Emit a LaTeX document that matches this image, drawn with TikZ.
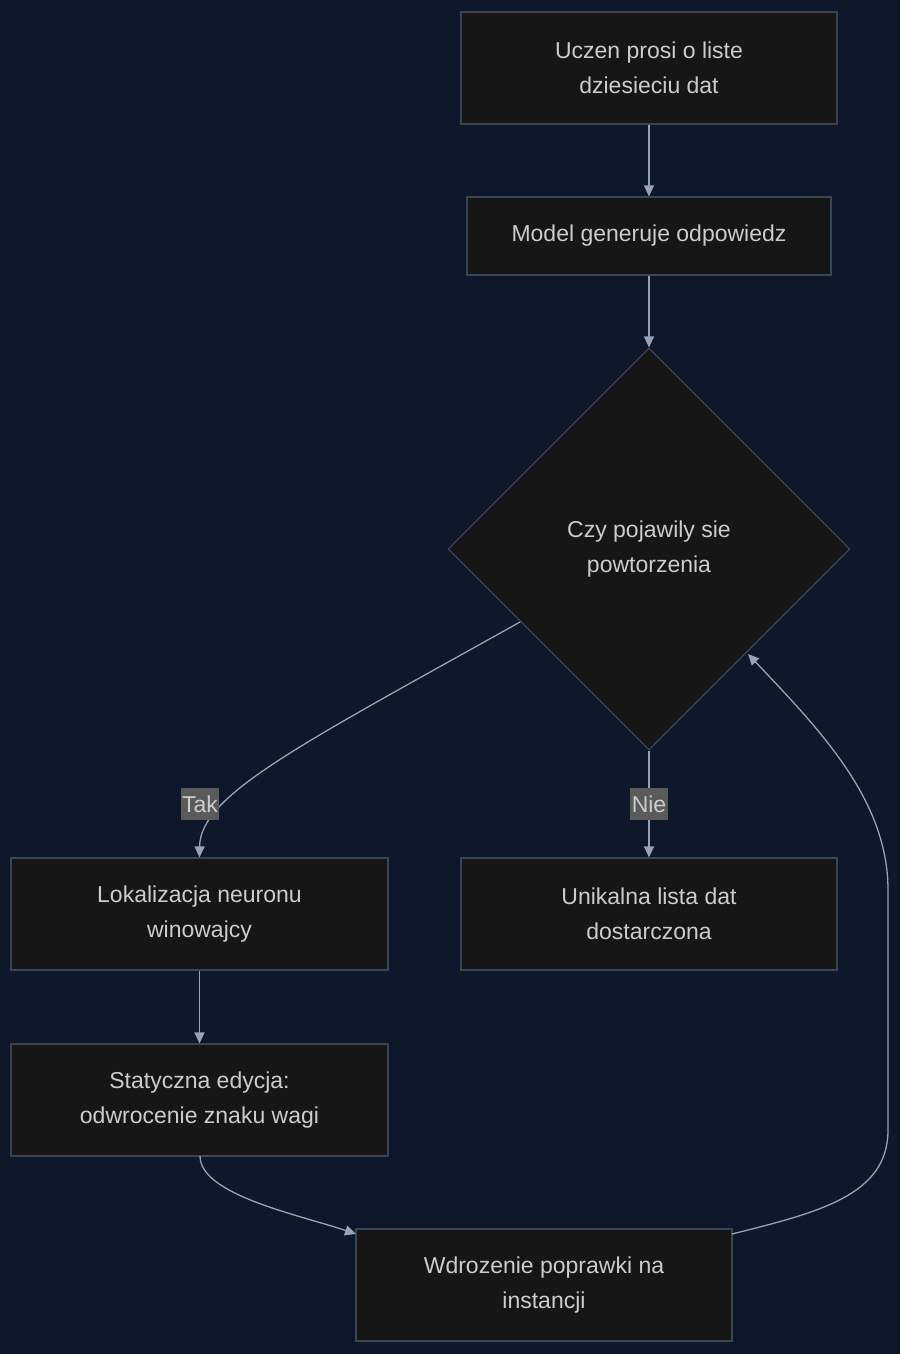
\documentclass[tikz,border=0pt]{standalone}
\usepackage{fontspec}
\setmainfont{Liberation Sans}
\usetikzlibrary{shapes.geometric,arrows.meta}
\definecolor{bgc}{RGB}{15,23,42}
\definecolor{nodefill}{RGB}{22,22,22}
\definecolor{nodeborder}{RGB}{58,69,86}
\definecolor{edgec}{RGB}{148,163,184}
\definecolor{txtc}{RGB}{204,204,204}
\definecolor{lblbg}{RGB}{90,90,90}
\tikzset{
  x=1pt,y=-1pt,
  box/.style={draw=nodeborder,fill=nodefill,line width=1.2pt,text=txtc,align=center,
    font=\fontsize{23}{35}\selectfont,inner sep=0pt},
  decision/.style={diamond,aspect=1,draw=nodeborder,fill=nodefill,line width=1.2pt,text=txtc,align=center,
    font=\fontsize{23}{35}\selectfont,minimum width=402pt,minimum height=402pt,inner sep=0pt},
  edge/.style={draw=edgec,line width=1.3pt,-{Triangle[length=11pt,width=10pt]}},
  lbl/.style={fill=lblbg,text=txtc,font=\fontsize{23}{26}\selectfont,inner sep=1.5pt,minimum height=32pt}
}
\begin{document}
\begin{tikzpicture}
\fill[bgc] (0,0) rectangle (900,1354);
\useasboundingbox (0,0) rectangle (900,1354);

\node[box,minimum width=376pt,minimum height=112pt] (A) at (649,68) {Uczen prosi o liste\\dziesieciu dat};
\node[box,minimum width=364pt,minimum height=78pt] (B) at (649,236) {Model generuje odpowiedz};
\node[decision] (C) at (649,549) {Czy pojawily sie\\powtorzenia};
\node[box,minimum width=377pt,minimum height=112pt] (D) at (199.5,914) {Lokalizacja neuronu\\winowajcy};
\node[box,minimum width=376pt,minimum height=112pt] (E) at (649,914) {Unikalna lista dat\\dostarczona};
\node[box,minimum width=377pt,minimum height=112pt] (F) at (199.5,1100) {Statyczna edycja:\\odwrocenie znaku wagi};
\node[box,minimum width=376pt,minimum height=112pt] (G) at (544,1285) {Wdrozenie poprawki na\\instancji};

\coordinate (Cl) at (520,622);
\coordinate (Cr) at (748,654);
\coordinate (Gr) at (732,1234);
\coordinate (Gl) at (356,1234);
\coordinate (Fb) at (200,1156);

\draw[edge] (A.south) -- (B.north);
\draw[edge] (B.south) -- (C.north);
\draw[edge] (Cl) .. controls (300,745) and (200,795) .. (D.north);
\draw[edge] (C.south) -- (E.north);
\draw[edge] (D.south) -- (F.north);
\draw[edge] (Fb) .. controls (200,1195) and (300,1215) .. (Gl);
\draw[edge] (Gr) .. controls (820,1212) and (888,1195) .. (888,1130) -- (888,890) .. controls (888,800) and (820,730) .. (Cr);

\node[lbl] (tak) at (200,804) {Tak};
\node[lbl] (nie) at (649,804) {Nie};
\end{tikzpicture}
\end{document}
